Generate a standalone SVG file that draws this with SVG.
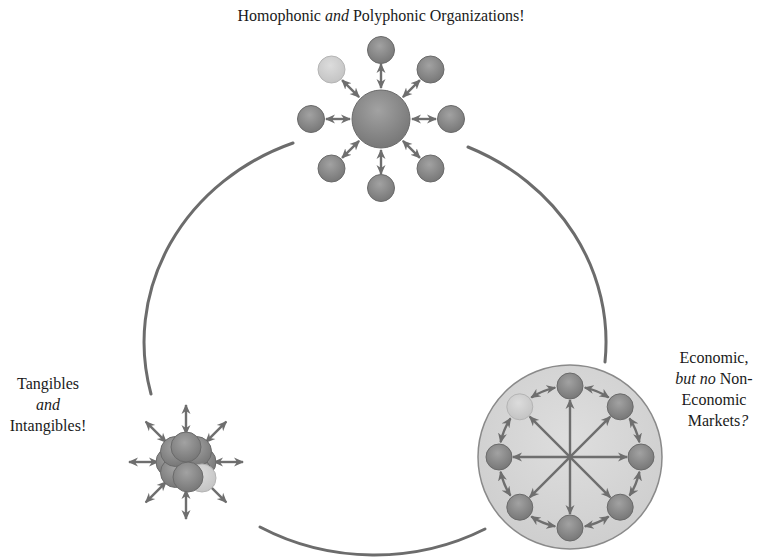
<svg xmlns="http://www.w3.org/2000/svg" width="759" height="558" viewBox="0 0 759 558">
<style>
.lbl{font-family:"Liberation Serif","DejaVu Serif","Times New Roman",serif;font-size:16px;fill:#1a1a1a;text-anchor:middle}
.it{font-style:italic}
.ring{fill:none;stroke:#6c6c6c;stroke-width:3;stroke-linecap:round}
.arr{fill:none;stroke:#6e6e6e;stroke-width:2.4;marker-start:url(#ah);marker-end:url(#ah)}
.nd{fill:url(#g);stroke:#6a6a6a;stroke-width:1}
.lt{fill:url(#gl);stroke:#b4b4b4;stroke-width:1}
</style>
<defs>
<radialGradient id="g" cx="0.45" cy="0.35" r="0.7">
<stop offset="0" stop-color="#a2a2a2"/><stop offset="1" stop-color="#747474"/>
</radialGradient>
<radialGradient id="gl" cx="0.45" cy="0.35" r="0.7">
<stop offset="0" stop-color="#dcdcdc"/><stop offset="1" stop-color="#c2c2c2"/>
</radialGradient>
<radialGradient id="gm" cx="0.5" cy="0.4" r="0.65">
<stop offset="0" stop-color="#dedede"/><stop offset="1" stop-color="#cdcdcd"/>
</radialGradient>
<marker id="ah" viewBox="0 0 10 10" refX="9" refY="5" markerWidth="10" markerHeight="10" markerUnits="userSpaceOnUse" orient="auto-start-reverse">
<path d="M0,0.5 L10,5 L0,9.5 L3,5 z" fill="#6e6e6e"/>
</marker>
</defs>
<rect width="759" height="558" fill="#ffffff"/>

<g id="connectors">
<path class="ring" d="M293 143 A231 213 0 0 0 151 394"/>
<path class="ring" d="M468 147 A231 213 0 0 1 605 362"/>
<path class="ring" d="M260 527 A231 213 0 0 0 485 529"/>
</g>

<g id="organizations">
<g id="org-arrows">
<line class="arr" x1="412" y1="119" x2="436" y2="119"/>
<line class="arr" x1="402.9" y1="140.9" x2="419.9" y2="157.9"/>
<line class="arr" x1="381" y1="150" x2="381" y2="174"/>
<line class="arr" x1="359.1" y1="140.9" x2="342.1" y2="157.9"/>
<line class="arr" x1="350" y1="119" x2="326" y2="119"/>
<line class="arr" x1="359.1" y1="97.1" x2="342.1" y2="80.1"/>
<line class="arr" x1="381" y1="88" x2="381" y2="64"/>
<line class="arr" x1="402.9" y1="97.1" x2="419.9" y2="80.1"/>
</g>
<circle class="nd" cx="381" cy="119" r="29"/>
<circle class="nd" cx="451" cy="119" r="13.5"/>
<circle class="nd" cx="430.5" cy="168.5" r="13.5"/>
<circle class="nd" cx="381" cy="188" r="13.5"/>
<circle class="nd" cx="331.5" cy="168.5" r="13.5"/>
<circle class="nd" cx="311" cy="119" r="13.5"/>
<circle class="lt" cx="331.5" cy="69.5" r="13.5"/>
<circle class="nd" cx="381" cy="50" r="13.5"/>
<circle class="nd" cx="430.5" cy="69.5" r="13.5"/>
</g>

<g id="tangibles">
<g id="tan-arrows">
<line class="arr" x1="214" y1="462" x2="243" y2="462"/>
<line class="arr" x1="205.8" y1="481.8" x2="226.3" y2="502.3"/>
<line class="arr" x1="186" y1="490" x2="186" y2="519"/>
<line class="arr" x1="166.2" y1="481.8" x2="145.7" y2="502.3"/>
<line class="arr" x1="158" y1="462" x2="129" y2="462"/>
<line class="arr" x1="166.2" y1="442.2" x2="145.7" y2="421.7"/>
<line class="arr" x1="186" y1="434" x2="186" y2="405"/>
<line class="arr" x1="205.8" y1="442.2" x2="226.3" y2="421.7"/>
</g>
<circle class="nd" cx="201" cy="462" r="15"/>
<circle class="nd" cx="196.5" cy="472.5" r="15"/>
<circle class="nd" cx="171" cy="462" r="15"/>
<circle class="nd" cx="175.5" cy="472.5" r="15"/>
<circle class="nd" cx="175.5" cy="451.5" r="15"/>
<circle class="nd" cx="196.5" cy="451.5" r="15"/>
<circle class="lt" cx="202" cy="478" r="14"/>
<circle class="nd" cx="188" cy="477" r="15"/>
<circle class="nd" cx="186" cy="447" r="15"/>
</g>

<g id="markets">
<circle cx="570" cy="457" r="92" fill="url(#gm)" stroke="#8a8a8a" stroke-width="1.5"/>
<g id="mkt-arrows">
<line class="arr" x1="513" y1="457" x2="627" y2="457"/>
<line class="arr" x1="570" y1="400" x2="570" y2="514"/>
<line class="arr" x1="529.7" y1="416.7" x2="610.3" y2="497.3"/>
<line class="arr" x1="610.3" y1="416.7" x2="529.7" y2="497.3"/>
<path class="arr" d="M639.4 471.8 A71 71 0 0 1 629.5 495.7"/>
<path class="arr" d="M608.7 516.5 A71 71 0 0 1 584.8 526.4"/>
<path class="arr" d="M555.2 526.4 A71 71 0 0 1 531.3 516.5"/>
<path class="arr" d="M510.5 495.7 A71 71 0 0 1 500.6 471.8"/>
<path class="arr" d="M500.6 442.2 A71 71 0 0 1 510.5 418.3"/>
<path class="arr" d="M531.3 397.5 A71 71 0 0 1 555.2 387.6"/>
<path class="arr" d="M584.8 387.6 A71 71 0 0 1 608.7 397.5"/>
<path class="arr" d="M629.5 418.3 A71 71 0 0 1 639.4 442.2"/>
</g>
<circle class="nd" cx="641" cy="457" r="13"/>
<circle class="nd" cx="620.2" cy="507.2" r="13"/>
<circle class="nd" cx="570" cy="528" r="13"/>
<circle class="nd" cx="519.8" cy="507.2" r="13"/>
<circle class="nd" cx="499" cy="457" r="13"/>
<circle class="lt" cx="519.8" cy="406.8" r="13"/>
<circle class="nd" cx="570" cy="386" r="13"/>
<circle class="nd" cx="620.2" cy="406.8" r="13"/>
</g>

<g id="labels" font-family="Liberation Serif, serif">
<text class="lbl" x="381" y="21">Homophonic <tspan class="it">and</tspan> Polyphonic Organizations!</text>
<text class="lbl" x="714" y="363">Economic,</text>
<text class="lbl" x="714" y="384"><tspan class="it">but no</tspan> Non-</text>
<text class="lbl" x="714" y="405">Economic</text>
<text class="lbl" x="718" y="426">Markets<tspan class="it">?</tspan></text>
<text class="lbl" x="48" y="389">Tangibles</text>
<text class="lbl it" x="48" y="410">and</text>
<text class="lbl" x="48" y="431">Intangibles!</text>
</g>
</svg>
